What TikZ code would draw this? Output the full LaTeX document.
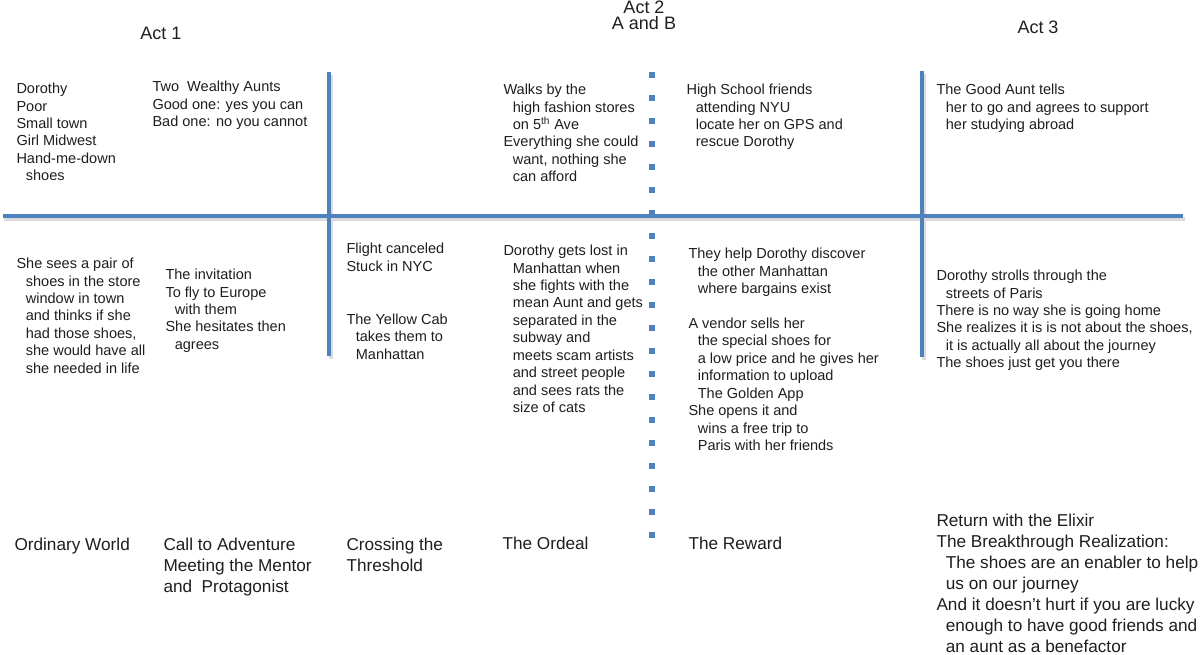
\documentclass[tikz,border=0pt]{standalone}
\usepackage{fontspec}
\setmainfont{Liberation Sans}

\definecolor{barblue}{RGB}{79,129,189}
\definecolor{txtcol}{RGB}{30,30,30}
\newcommand{\indl}{\hspace*{7pt}}

\tikzset{every picture/.style={line width=0.75pt}}
\tikzset{
  actlabel/.style={anchor=center,inner sep=0pt,align=center,text=txtcol,font=\fontsize{13.5}{12.2}\selectfont},
  beat/.style={anchor=north west,inner sep=0pt,align=left,text=txtcol,font=\fontsize{10.9}{13.1}\selectfont},
  stage/.style={anchor=north west,inner sep=0pt,align=left,text=txtcol,font=\fontsize{12.9}{15.75}\selectfont},
  bar/.style={draw=barblue,line width=2.6pt},
  barshadow/.style={draw=black!14,line width=3.5pt},
  dotbar/.style={draw=barblue,line width=4.5pt,dash pattern={on 4.5pt off 12.75pt}}
}

\begin{document}
\begin{tikzpicture}[x=0.75pt,y=0.75pt,yscale=-1,xscale=1]
\useasboundingbox (0,0) rectangle (1200,654);

%Shadows of the bars
\draw [barshadow] (4,219) -- (1185,219) ;
\draw [barshadow] (331,75) -- (331,359) ;
\draw [barshadow] (924,74) -- (924,360) ;

%Straight Lines [id:timeline]
\draw [bar] (3,216) -- (1183,216) ;
%Straight Lines [id:act1end]
\draw [bar] (329,72) -- (329,356) ;
%Straight Lines [id:act2end]
\draw [bar] (922,71) -- (922,357) ;
%Dotted Line [id:midpoint]
\draw [dotbar] (652,72) -- (652,541) ;

% Text Node
\node [actlabel] (act1) at (161,33) {Act 1};
% Text Node
\node [actlabel] (act2) at (644,15) {Act 2\\A and B};
% Text Node
\node [actlabel] (act3) at (1038,27) {Act 3};

% Text Node
\node [beat] (dorothy) at (16,82.5) {Dorothy\\Poor\\Small town\\Girl Midwest\\Hand-me-down\\\indl shoes};
% Text Node
\node [beat] (aunts) at (152,80.5) {Two\ \ Wealthy Aunts\\Good one: yes you can\\Bad one: no you cannot};
% Text Node
\node [beat] (walks) at (503,83.5) {Walks by the\\\indl high fashion stores\\\indl on 5\textsuperscript{th} Ave\\Everything she could\\\indl want, nothing she\\\indl can afford};
% Text Node
\node [beat] (friends) at (686,83.5) {High School friends\\\indl attending NYU\\\indl locate her on GPS and\\\indl rescue Dorothy};
% Text Node
\node [beat] (goodaunt) at (936,83.5) {The Good Aunt tells\\\indl her to go and agrees to support\\\indl her studying abroad};

% Text Node
\node [beat] (shoes) at (16,257.5) {She sees a pair of\\\indl shoes in the store\\\indl window in town\\\indl and thinks if she\\\indl had those shoes,\\\indl she would have all\\\indl she needed in life};
% Text Node
\node [beat] (invite) at (165,268.5) {The invitation\\To fly to Europe\\\indl with them\\She hesitates then\\\indl agrees};
% Text Node
\node [beat] (flight) at (346,242.5) {Flight canceled\\Stuck in NYC\\[27pt]The Yellow Cab\\\indl takes them to\\\indl Manhattan};
% Text Node
\node [beat] (lost) at (503,244.5) {Dorothy gets lost in\\\indl Manhattan when\\\indl she fights with the\\\indl mean Aunt and gets\\\indl separated in the\\\indl subway and\\\indl meets scam artists\\\indl and street people\\\indl and sees rats the\\\indl size of cats};
% Text Node
\node [beat] (vendor) at (688,247.5) {They help Dorothy discover\\\indl the other Manhattan\\\indl where bargains exist\\[13.1pt]A vendor sells her\\\indl the special shoes for\\\indl a low price and he gives her\\\indl information to upload\\\indl The Golden App\\She opens it and\\\indl wins a free trip to\\\indl Paris with her friends};
% Text Node
\node [beat] (paris) at (936,269.5) {Dorothy strolls through the\\\indl streets of Paris\\There is no way she is going home\\She realizes it is is not about the shoes,\\\indl it is actually all about the journey\\The shoes just get you there};

% Text Node
\node [stage] (ordinary) at (14,537.5) {Ordinary World};
% Text Node
\node [stage] (call) at (163,537.5) {Call to Adventure\\Meeting the Mentor\\and\ \ Protagonist};
% Text Node
\node [stage] (threshold) at (346,537.5) {Crossing the\\Threshold};
% Text Node
\node [stage] (ordeal) at (502,536.5) {The Ordeal};
% Text Node
\node [stage] (reward) at (688,536.5) {The Reward};
% Text Node
\node [stage] (elixir) at (936,513.5) {Return with the Elixir\\The Breakthrough Realization:\\\indl The shoes are an enabler to help\\\indl us on our journey\\And it doesn't hurt if you are lucky\\\indl enough to have good friends and\\\indl an aunt as a benefactor};

\end{tikzpicture}
\end{document}
